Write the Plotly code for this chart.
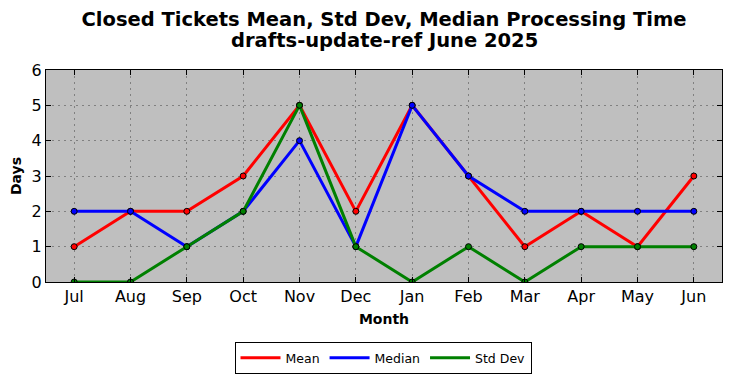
import plotly.graph_objects as go

months = ["Jul", "Aug", "Sep", "Oct", "Nov", "Dec", "Jan", "Feb", "Mar", "Apr", "May", "Jun"]
mean_vals = [1, 2, 2, 3, 5, 2, 5, 3, 1, 2, 1, 3]
median_vals = [2, 2, 1, 2, 4, 1, 5, 3, 2, 2, 2, 2]
std_vals = [0, 0, 1, 2, 5, 1, 0, 1, 0, 1, 1, 1]
title_lines = ["Closed Tickets Mean, Std Dev, Median Processing Time", "drafts-update-ref June 2025"]

series = [("Mean", mean_vals, "#ff0000"), ("Median", median_vals, "#0000ff"), ("Std Dev", std_vals, "#008000")]

fig = go.Figure()
xs = list(range(len(months)))
for name, vals, col in series:
    fig.add_trace(go.Scatter(
        x=xs, y=vals, name=name, mode="lines", legendgroup=name,
        line=dict(color=col, width=3),
    ))
    fig.add_trace(go.Scatter(
        x=xs, y=vals, name=name, mode="markers", legendgroup=name, showlegend=False,
        marker=dict(color=col, size=6, line=dict(color="black", width=1)),
    ))

fig.update_layout(
    width=732, height=378,
    margin=dict(l=46, r=10, t=70, b=96, autoexpand=False),
    paper_bgcolor="white", plot_bgcolor="#bfbfbf",
    font=dict(family="DejaVu Sans", color="black"),
    title=dict(text="<b>" + title_lines[0] + "</b>", x=(384 - 46) / 676, xref="paper", xanchor="center",
               yref="container", y=1 - 19 / 378, yanchor="middle", font=dict(size=19.5)),
    annotations=[dict(text="<b>" + title_lines[1] + "</b>", xref="paper", yref="paper",
                      x=(384 - 46) / 676, y=1 + (70 - 41) / 212, xanchor="center", yanchor="middle",
                      showarrow=False, font=dict(size=19.5))],
    showlegend=True,
    legend=dict(orientation="h", x=(383 - 46) / 676, xanchor="center", xref="paper",
                y=1 - 342 / 378, yanchor="top", yref="container",
                bordercolor="black", borderwidth=1, bgcolor="white", font=dict(size=12.5),
                itemwidth=40, traceorder="normal"),
)
fig.update_xaxes(
    tickmode="array", tickvals=xs, ticktext=months, automargin=False,
    range=[-0.5, 11.5], showgrid=True, gridcolor="#808080", griddash="2px,4px", gridwidth=1,
    ticks="inside", ticklen=5, tickcolor="black", mirror="ticks", showline=True, linecolor="black", linewidth=1,
    tickfont=dict(size=16), zeroline=False,
    title=dict(text="<b>Month</b>", font=dict(size=14), standoff=8),
)
fig.update_yaxes(
    range=[0, 6], dtick=1, showgrid=True, gridcolor="#808080", griddash="2px,4px", gridwidth=1, automargin=False,
    ticks="inside", ticklen=5, tickcolor="black", mirror="ticks", showline=True, linecolor="black", linewidth=1,
    tickfont=dict(size=16), zeroline=False,
    title=dict(text="<b>Days</b>", font=dict(size=14), standoff=6),
)
fig.write_html("out.html", config={"displayModeBar": False},
               post_script="document.body.style.margin='0';document.body.style.overflow='hidden';")
